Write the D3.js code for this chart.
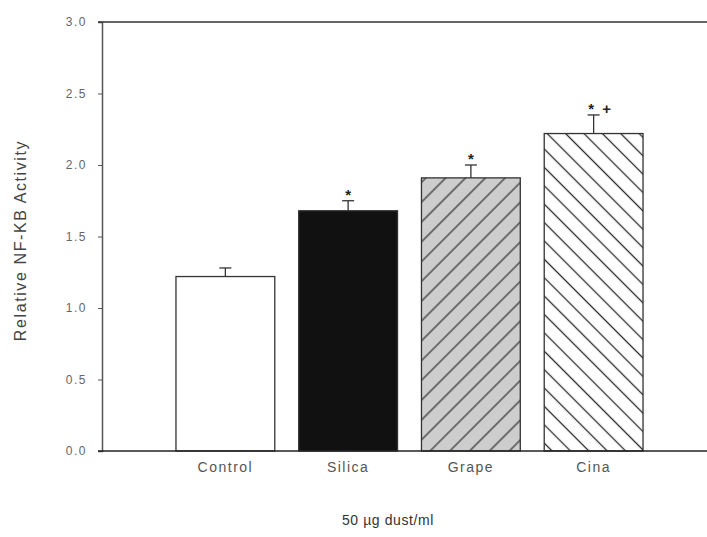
<!DOCTYPE html>
<html><head><meta charset="utf-8">
<script src="https://cdn.jsdelivr.net/npm/d3@7"></script>
<style>body{margin:0;background:#fff}svg{display:block}</style>
</head><body>
<script>
const categories = ["Control", "Silica", "Grape", "Cina"];
const values = [1.22, 1.68, 1.91, 2.22];
const errors = [0.06, 0.07, 0.09, 0.13];
const marks = ["", "*", "*", "*  +"];
const yTicks = [0.0, 0.5, 1.0, 1.5, 2.0, 2.5, 3.0];
const xTitle = "50 µg dust/ml";
const yTitle = "Relative NF-KB Activity";

const W = 707, H = 537;
const m = {left: 102, right: 0, top: 22, bottom: 86};
const FONT = "Arial, 'Liberation Sans', sans-serif";
const svg = d3.select("body").append("svg").attr("width", W).attr("height", H);
const defs = svg.append("defs");

function hatch(id, bg, angle, spacing, col, sw) {
  const p = defs.append("pattern").attr("id", id).attr("patternUnits", "userSpaceOnUse")
    .attr("width", spacing).attr("height", spacing).attr("patternTransform", `rotate(${angle})`);
  p.append("rect").attr("width", spacing).attr("height", spacing).attr("fill", bg);
  p.append("line").attr("x1", spacing / 2).attr("x2", spacing / 2).attr("y1", 0).attr("y2", spacing)
    .attr("stroke", col).attr("stroke-width", sw);
}
hatch("pGrape", "#cdcdcd", 45, 14, "#3a3a3a", 1.3);
hatch("pCina", "#ffffff", -45, 13, "#2a2a2a", 1.3);

const fills = ["#ffffff", "#111111", "url(#pGrape)", "url(#pCina)"];

const y = d3.scaleLinear().domain([0, 3]).range([H - m.bottom, m.top]);
const x = d3.scaleBand().domain(categories).range([164, 655]).paddingInner(0.195).paddingOuter(0.0975);

const g = svg.append("g");
g.selectAll("rect.bar").data(categories).join("rect").attr("class", "bar")
  .attr("x", d => x(d)).attr("width", x.bandwidth())
  .attr("y", (d, i) => y(values[i])).attr("height", (d, i) => y(0) - y(values[i]))
  .attr("fill", (d, i) => fills[i]).attr("stroke", "#333").attr("stroke-width", 1.3);

categories.forEach((c, i) => {
  const cx = x(c) + x.bandwidth() / 2;
  const top = y(values[i] + errors[i]);
  g.append("line").attr("x1", cx).attr("x2", cx).attr("y1", y(values[i])).attr("y2", top)
    .attr("stroke", "#333").attr("stroke-width", 1.3);
  g.append("line").attr("x1", cx - 6).attr("x2", cx + 6).attr("y1", top).attr("y2", top)
    .attr("stroke", "#333").attr("stroke-width", 1.3);
  if (marks[i]) {
    g.append("text").attr("x", cx + (i === 3 ? 6 : 0)).attr("y", top - 1)
      .attr("text-anchor", "middle").attr("font-family", FONT).attr("xml:space", "preserve")
      .style("white-space", "pre")
      .attr("font-size", 15).attr("font-weight", "bold").attr("fill", "#222").text(marks[i]);
  }
});

const yAxis = d3.axisLeft(y).tickValues(yTicks).tickFormat(d3.format(".1f")).tickSize(4).tickPadding(11);
const ya = svg.append("g").attr("transform", `translate(${m.left},0)`).call(yAxis);
ya.select(".domain").attr("stroke", "#555").attr("stroke-width", 1.5);
ya.selectAll(".tick line").attr("stroke", "#555");
ya.selectAll("text").attr("font-family", FONT).attr("font-size", 12).attr("letter-spacing", 1.5).attr("fill", "#666");

svg.append("line").attr("x1", m.left - 4).attr("x2", W).attr("y1", y(3)).attr("y2", y(3)).attr("stroke", "#333").attr("stroke-width", 1.5);
svg.append("line").attr("x1", m.left - 4).attr("x2", W).attr("y1", y(0)).attr("y2", y(0)).attr("stroke", "#222").attr("stroke-width", 1.5);

const xa = svg.append("g").attr("transform", `translate(0,${y(0)})`)
  .call(d3.axisBottom(x).tickSize(0).tickPadding(11));
xa.select(".domain").remove();
xa.selectAll("text").attr("font-family", FONT).attr("font-size", 14).attr("letter-spacing", 1.5).attr("fill", "#555");

svg.append("text").attr("x", 388).attr("y", 525).attr("text-anchor", "middle")
  .attr("font-family", FONT).attr("font-size", 14).attr("letter-spacing", 0.6).attr("fill", "#333").text(xTitle);
svg.append("text").attr("transform", `translate(26,${(y(0)+y(3))/2 + 4}) rotate(-90)`).attr("text-anchor", "middle")
  .attr("font-family", FONT).attr("font-size", 16).attr("letter-spacing", 1.6).attr("fill", "#444").text(yTitle);
</script>
</body></html>
